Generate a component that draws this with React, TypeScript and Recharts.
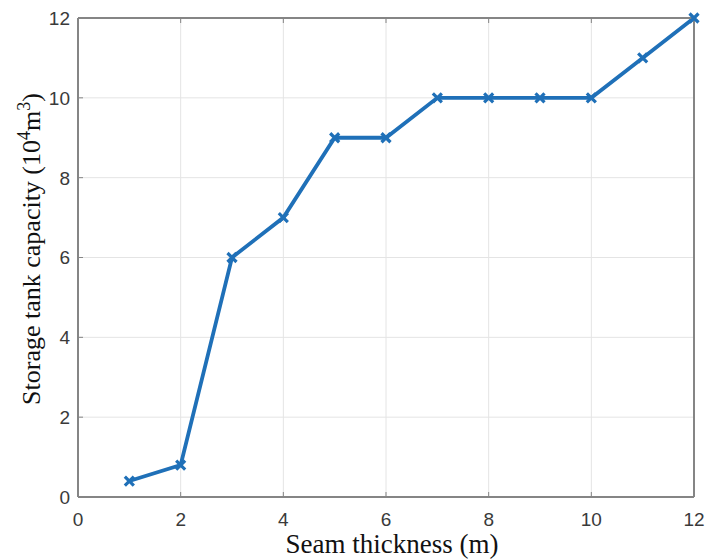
import React from 'react';
import { LineChart, Line, XAxis, YAxis, CartesianGrid, ReferenceLine } from 'recharts';

const thickness = [1, 2, 3, 4, 5, 6, 7, 8, 9, 10, 11, 12];
const capacity = [0.4, 0.8, 6, 7, 9, 9, 10, 10, 10, 10, 11, 12];
const xTicks = [0, 2, 4, 6, 8, 10, 12];
const yTicks = [0, 2, 4, 6, 8, 10, 12];

const data = thickness.map((t, i) => ({ t, c: capacity[i] }));

const LINE_COLOR = '#1f70b8';
const AXIS_COLOR = '#858585';
const TICK_FONT = '"Liberation Sans", Arial, sans-serif';

const XTick = (props: any) => {
  const { x, y, payload } = props;
  return (
    <text x={x} y={y} dy="0.71em" textAnchor="middle" fontFamily={TICK_FONT} fontSize={19} fill="#3a3a3a">
      {payload.value}
    </text>
  );
};

const YTick = (props: any) => {
  const { x, y, payload } = props;
  return (
    <text x={x} y={y} dy="0.36em" textAnchor="end" fontFamily={TICK_FONT} fontSize={19} fill="#3a3a3a">
      {payload.value}
    </text>
  );
};

const CrossDot = (props: any) => {
  const { cx, cy, index } = props;
  if (cx == null || cy == null) return null;
  const s = 4.5;
  const d = `M${cx - s},${cy - s}L${cx + s},${cy + s}M${cx - s},${cy + s}L${cx + s},${cy - s}`;
  return <path key={`dot-${index}`} d={d} stroke={LINE_COLOR} strokeWidth={3.2} fill="none" />;
};

const XLabel = () => (
  <text x={392} y={553} textAnchor="middle" fontFamily='"Liberation Serif", "Times New Roman", serif' fontSize={27} fill="#111">
    Seam thickness (m)
  </text>
);

const YLabel = () => (
  <text
    x={40}
    y={249}
    transform="rotate(-90, 40, 249)"
    textAnchor="middle"
    fontFamily='"Liberation Serif", "Times New Roman", serif'
    fontSize={26}
    fill="#111"
  >
    Storage tank capacity (10
    <tspan fontSize={18} dy={-10}>4</tspan>
    <tspan dy={10}>m</tspan>
    <tspan fontSize={18} dy={-10}>3</tspan>
    <tspan dy={10}>)</tspan>
  </text>
);

export default function App() {
  return (
    <div style={{ position: 'fixed', left: 0, top: 0, width: 705, height: 559, background: '#fff' }}>
      <LineChart width={705} height={559} data={data} margin={{ top: 17, right: 10, bottom: 32, left: 38 }}>
        <CartesianGrid stroke="#e4e4e4" strokeWidth={1} />
        <XAxis
          dataKey="t"
          type="number"
          domain={[0, 12]}
          ticks={xTicks}
          height={30}
          tickSize={-5}
          tickMargin={21}
          stroke={AXIS_COLOR}
          tick={<XTick />}
          axisLine={{ stroke: AXIS_COLOR, strokeWidth: 2 }}
        />
        <XAxis
          xAxisId="top"
          orientation="top"
          dataKey="t"
          type="number"
          domain={[0, 12]}
          ticks={xTicks}
          height={1}
          tickSize={-5}
          tickFormatter={() => ''}
          stroke={AXIS_COLOR}
          axisLine={{ stroke: AXIS_COLOR, strokeWidth: 2 }}
        />
        <YAxis
          type="number"
          domain={[0, 12]}
          ticks={yTicks}
          width={40}
          tickSize={-5}
          tickMargin={13}
          stroke={AXIS_COLOR}
          tick={<YTick />}
          axisLine={{ stroke: AXIS_COLOR, strokeWidth: 2 }}
        />
        <YAxis
          yAxisId="right"
          orientation="right"
          type="number"
          domain={[0, 12]}
          ticks={yTicks}
          width={1}
          tickSize={-5}
          tickFormatter={() => ''}
          stroke={AXIS_COLOR}
          axisLine={{ stroke: AXIS_COLOR, strokeWidth: 2 }}
        />
        <ReferenceLine y={12} stroke={AXIS_COLOR} strokeWidth={2} ifOverflow="visible" />
        <ReferenceLine x={12} stroke={AXIS_COLOR} strokeWidth={2} ifOverflow="visible" />
        <Line
          dataKey="c"
          stroke={LINE_COLOR}
          strokeWidth={3.8}
          dot={CrossDot}
          activeDot={false}
          isAnimationActive={false}
          type="linear"
        />
        <XLabel />
        <YLabel />
      </LineChart>
    </div>
  );
}
